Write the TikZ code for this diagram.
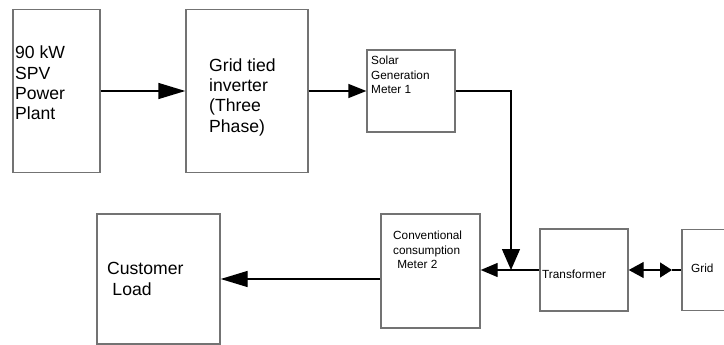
\documentclass[tikz,border=0pt]{standalone}
\usepackage{fontspec}
\setmainfont{Liberation Sans}
\usetikzlibrary{arrows.meta}

\begin{document}
\begin{tikzpicture}[x=1pt,y=-1pt,
    box/.style={draw=black!55,line width=1.4pt,inner sep=0pt},
    big/.style={inner sep=0pt,anchor=west,align=left,font=\fontsize{17.6}{20.3}\selectfont},
    small/.style={inner sep=0pt,anchor=west,align=left,font=\fontsize{11.8}{14.5}\selectfont},
    wire/.style={line width=1.4pt}]
    \clip (0,0) rectangle (724,345);

    \node[box,minimum width=87pt,minimum height=163pt]  (SPV)  at (56.5,91)  {};
    \node[box,minimum width=122pt,minimum height=163pt] (INV)  at (247,91)   {};
    \node[box,minimum width=88pt,minimum height=82pt]   (SGM)  at (411,91)   {};
    \node[box,minimum width=99pt,minimum height=114pt]  (CCM)  at (430.5,271) {};
    \node[box,minimum width=88pt,minimum height=82pt]   (TRF)  at (584,270)  {};
    \node[box,minimum width=66pt,minimum height=81pt]   (GRD)  at (715,270)  {};
    \node[box,minimum width=123pt,minimum height=130pt] (LOAD) at (158.5,279) {};

    \node[big]   (SPVtxt)  at (15,83)   {90 kW\\SPV\\Power\\Plant};
    \node[big]   (INVtxt)  at (209,97)  {Grid tied\\inverter\\(Three\\Phase)};
    \node[small] (SGMtxt)  at (371,75)  {Solar\\Generation\\Meter 1};
    \node[small] (CCMtxt)  at (393,250) {Conventional\\consumption\\\hspace*{0.35em}Meter 2};
    \node[small] (TRFtxt)  at (542,274) {Transformer};
    \node[small] (GRDtxt)  at (691,268) {Grid};
    \node[big]   (LOADtxt) at (107,279) {Customer\\\hspace*{0.3em}Load};

    \coordinate (JN) at (511,270);
    \coordinate (GTIP) at (672,270);

    \draw [wire,-{Triangle[length=27pt,width=16pt]}] (SPV) -- (INV);
    \draw [wire,-{Triangle[length=18pt,width=14pt]}] (INV) -- (SGM);
    \draw [wire,-{Triangle[length=21pt,width=18pt]}] (SGM.east) -| (JN);
    \draw [wire,-{Triangle[length=17pt,width=14pt]}] (TRF.west) -- (TRF.west -| CCM.east);
    \draw [wire,-{Triangle[length=27pt,width=16pt]}] (CCM.west |- LOAD.east) -- (LOAD.east);
    \draw [wire,{Triangle[length=15pt,width=16pt]}-{Triangle[length=12pt,width=15pt]}] (TRF.east) -- (GTIP);
    \draw [wire] (GTIP) -- (GRD.west);
\end{tikzpicture}
\end{document}
